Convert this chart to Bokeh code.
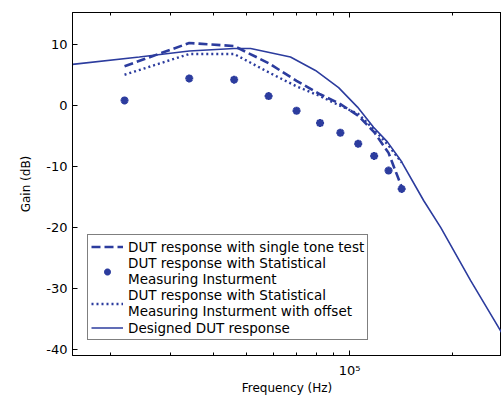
from bokeh.plotting import figure
from bokeh.models import FixedTicker, LogAxis, Legend, LegendItem, Range1d
from bokeh.embed import file_html
from bokeh.resources import INLINE

# measurement frequencies (Hz)
freq_meas = [22000, 34000, 46000, 58000, 70000, 82000, 94000, 106000, 118000, 130000, 142000]
# DUT response with single tone test (dB)
single_tone = [6.4, 10.2, 9.7, 6.9, 4.0, 1.8, 0.2, -1.7, -4.4, -7.8, -13.4]
# DUT response with Statistical Measuring Insturment (dB)
statistical = [0.8, 4.4, 4.2, 1.5, -0.9, -2.9, -4.5, -6.3, -8.3, -10.7, -13.7]
# ... with offset (dB)
stat_offset = [5.0, 8.4, 8.4, 5.4, 3.1, 1.5, -0.1, -1.4, -4.0, -6.6, -9.4]
# Designed DUT response
design_freq = [15500, 24300, 34000, 46000, 51400, 67200, 79500, 92900, 105500,
               117500, 129000, 141000, 164600, 184600, 225700, 278000]
design_gain = [6.7, 7.9, 8.9, 9.3, 9.3, 7.9, 5.7, 2.9, -0.3,
               -3.6, -6.0, -9.0, -15.6, -20.0, -28.7, -37.2]

y_ticks = [-40, -30, -20, -10, 0, 10]
x_major = [100000]
x_minor = [20000, 30000, 40000, 50000, 60000, 70000, 80000, 90000, 200000]

BLUE = "#2c3c9e"
FONT = "DejaVu Sans"

p = figure(width=501, height=397, x_axis_type="log",
           x_range=Range1d(15500, 278000), y_range=Range1d(-41, 15.2),
           output_backend="svg", toolbar_location=None,
           min_border_left=72, min_border_right=0, min_border_top=12, min_border_bottom=41)
p.grid.visible = False
p.outline_line_color = "black"
p.outline_line_width = 1
p.background_fill_color = "white"
p.border_fill_color = "white"

r_solid = p.line(design_freq, design_gain, line_color=BLUE, line_width=1.6)
r_dash = p.line(freq_meas, single_tone, line_color=BLUE, line_width=2.6, line_dash="9 4")
r_dot = p.line(freq_meas, stat_offset, line_color=BLUE, line_width=2.4, line_dash="2 3")
r_star = p.scatter(freq_meas, statistical, marker="asterisk", size=8,
                   line_color=BLUE, line_width=2.4, fill_color=BLUE)

xa = p.xaxis[0]
xa.ticker = FixedTicker(ticks=x_major, minor_ticks=x_minor)
xa.major_label_overrides = {100000: "10\u2075"}
xa.major_tick_in = 5
xa.major_tick_out = 0
xa.minor_tick_in = 3
xa.minor_tick_out = 0
xa.major_label_standoff = 7
xa.major_label_text_font = FONT
xa.major_label_text_font_size = "13px"
xa.major_label_text_color = "black"
xa.axis_label = "Frequency (Hz)"
xa.axis_label_text_font = FONT
xa.axis_label_text_font_size = "12px"
xa.axis_label_text_font_style = "normal"
xa.axis_label_text_color = "black"
xa.axis_label_standoff = 0
xa.axis_line_color = "black"

ya = p.yaxis[0]
ya.ticker = FixedTicker(ticks=y_ticks, minor_ticks=[])
ya.major_label_overrides = {t: str(t) for t in y_ticks}
ya.major_tick_in = 5
ya.major_tick_out = 0
ya.minor_tick_in = 0
ya.minor_tick_out = 0
ya.major_label_standoff = 5
ya.major_label_text_font = FONT
ya.major_label_text_font_size = "13px"
ya.major_label_text_color = "black"
ya.axis_label = "Gain (dB)"
ya.axis_label_text_font = FONT
ya.axis_label_text_font_size = "12px"
ya.axis_label_text_font_style = "normal"
ya.axis_label_text_color = "black"
ya.axis_label_standoff = 10
ya.axis_line_color = "black"

top = LogAxis(ticker=FixedTicker(ticks=x_major, minor_ticks=x_minor),
              major_label_text_font_size="1px", major_label_text_color=None,
              major_tick_in=5, major_tick_out=0,
              minor_tick_in=3, minor_tick_out=0, major_label_standoff=0,
              axis_line_color="black")
p.add_layout(top, "above")

legend = Legend(items=[
    LegendItem(label="DUT response with single tone test", renderers=[r_dash]),
    LegendItem(label="DUT response with Statistical\nMeasuring Insturment", renderers=[r_star]),
    LegendItem(label="DUT response with Statistical\nMeasuring Insturment with offset", renderers=[r_dot]),
    LegendItem(label="Designed DUT response", renderers=[r_solid]),
], location=(15, 15), border_line_color="black", border_line_width=1.2,
    background_fill_color="white", background_fill_alpha=1,
    label_text_font=FONT, label_text_font_size="13.5px", label_text_line_height=1.4,
    label_text_color="black",
    glyph_width=32, glyph_height=17, label_standoff=5, padding=3, spacing=0,
    margin=0, label_height=17)
p.add_layout(legend)

open("out.html", "w").write(file_html(p, INLINE))
